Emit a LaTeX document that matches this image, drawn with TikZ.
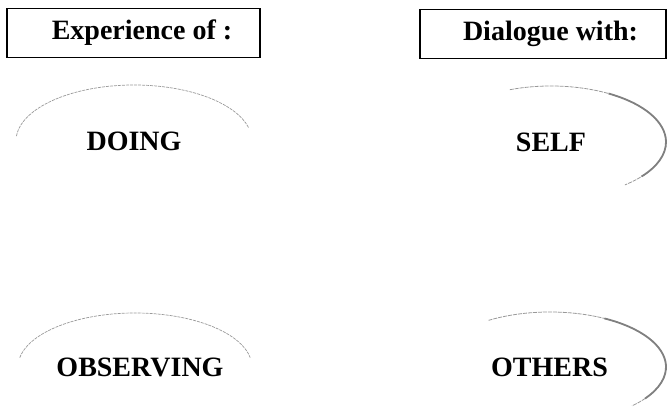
\documentclass[tikz,border=0pt]{standalone}
\usepackage{fontspec}
\setmainfont{Liberation Serif}
\begin{document}
\begin{tikzpicture}[x=1pt,y=1pt,
  headbox/.style={draw=black, line width=1.1pt, rectangle, minimum height=49pt, inner sep=0pt,
    font=\fontsize{28}{30}\selectfont\bfseries},
  label/.style={inner sep=0pt, font=\fontsize{28}{30}\selectfont\bfseries},
  faintarc/.style={draw=black!40, line width=0.7pt, dash pattern=on 3pt off 1pt},
  greyarc/.style={draw=black!40, line width=0.8pt, dash pattern=on 4pt off 1pt},
  darkarc/.style={draw=black!50, line width=1.8pt}]
\useasboundingbox (0,0) rectangle (667,407);
% header boxes
\node[headbox, minimum width=253pt] (exp) at (133.5,374) {\hspace*{17pt}Experience of :};
\node[headbox, minimum width=246pt] (dia) at (543,373) {\hspace*{15pt}Dialogue with:};
% labels
\node[label] (doing) at (134,266) {DOING};
\node[label] (obs) at (140,40) {OBSERVING};
\node[label] (self) at (551,265) {SELF};
\node[label] (oth) at (549.5,40) {OTHERS};
% faint ellipse arcs (left)
\draw[faintarc] (doing.center) ++(175:118 and 56) arc[start angle=175, end angle=14, x radius=118, y radius=56];
\draw[faintarc] ([xshift=-5pt]obs.center) ++(170:117 and 54) arc[start angle=170, end angle=10, x radius=117, y radius=54];
% ellipse arcs (right)
\draw[greyarc] (self.center) ++(111:115 and 56) arc[start angle=111, end angle=-50, x radius=115, y radius=56];
\draw[darkarc] (self.center) ++(60:115 and 56) arc[start angle=60, end angle=-38, x radius=115, y radius=56];
\draw[greyarc] ([xshift=0.5pt]oth.center) ++(122:116 and 55) arc[start angle=122, end angle=-45, x radius=116, y radius=55];
\draw[darkarc] ([xshift=0.5pt]oth.center) ++(62:116 and 55) arc[start angle=62, end angle=-35, x radius=116, y radius=55];
\end{tikzpicture}
\end{document}
